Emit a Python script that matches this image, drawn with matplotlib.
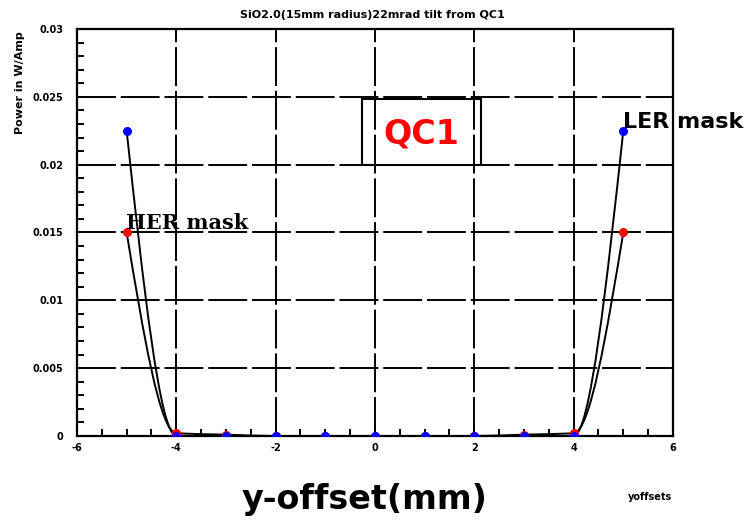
import numpy as np
import matplotlib
matplotlib.use("Agg")
import matplotlib.pyplot as plt
from matplotlib.path import Path
from matplotlib.patches import PathPatch, Rectangle
from matplotlib.ticker import MultipleLocator

# y offset of the beam [mm]
offsets = [-5, -4, -3, -2, -1, 0, 1, 2, 3, 4, 5]

# power deposited [W/Amp]
power_ler = [0.0225, 0, 0, 0, 0, 0, 0, 0, 0, 0, 0.0225]
power_her = [0.015, 0.0002, 0.0001, 0, 0, 0, 0, 0, 0.0001, 0.0002, 0.015]

x_ticks = [-6, -4, -2, 0, 2, 4, 6]
y_ticks = [0, 0.005, 0.01, 0.015, 0.02, 0.025, 0.03]
y_tick_labels = ["0", "0.005", "0.01", "0.015", "0.02", "0.025", "0.03"]

TITLE = "SiO2.0(15mm radius)22mrad tilt from QC1"

plt.rcParams["axes.unicode_minus"] = False


def pchip_slopes(x, y):
    """Monotone (Fritsch-Carlson) slopes at each node."""
    x = np.asarray(x, dtype=float)
    y = np.asarray(y, dtype=float)
    h = np.diff(x)
    delta = np.diff(y) / h
    d = np.zeros_like(y)
    for i in range(1, len(y) - 1):
        if delta[i - 1] * delta[i] > 0:
            w1 = 2 * h[i] + h[i - 1]
            w2 = h[i] + 2 * h[i - 1]
            d[i] = (w1 + w2) / (w1 / delta[i - 1] + w2 / delta[i])

    def end_slope(h0, h1, d0, d1):
        s = ((2 * h0 + h1) * d0 - h0 * d1) / (h0 + h1)
        if np.sign(s) != np.sign(d0):
            return 0.0
        if np.sign(d0) != np.sign(d1) and abs(s) > abs(3 * d0):
            return 3 * d0
        return s

    d[0] = end_slope(h[0], h[1], delta[0], delta[1])
    d[-1] = end_slope(h[-1], h[-2], delta[-1], delta[-2])
    return d


def smooth_curve(x, y):
    """Cubic Bezier path running through every point."""
    d = pchip_slopes(x, y)
    verts = [(x[0], y[0])]
    codes = [Path.MOVETO]
    for i in range(len(x) - 1):
        h = x[i + 1] - x[i]
        verts += [
            (x[i] + h / 3, y[i] + d[i] * h / 3),
            (x[i + 1] - h / 3, y[i + 1] - d[i + 1] * h / 3),
            (x[i + 1], y[i + 1]),
        ]
        codes += [Path.CURVE4] * 3
    return Path(verts, codes)


fig = plt.figure(figsize=(7.51, 5.22), dpi=100)
ax = fig.add_axes([0.1025, 0.1648, 0.7936, 0.7797])

ax.set_xlim(-6, 6)
ax.set_ylim(0, 0.03)

# dashed grid
ax.grid(True, color="black", linewidth=1.4, linestyle=(0, (20, 2.5)))
ax.set_axisbelow(True)

for series, colour in [(power_her, "red"), (power_ler, "blue")]:
    curve = PathPatch(smooth_curve(offsets, series), facecolor="none",
                      edgecolor="black", linewidth=1.4, zorder=3)
    ax.add_patch(curve)
    ax.plot(offsets, series, linestyle="none", marker="o", markersize=5.5,
            markerfacecolor=colour, markeredgecolor=colour, zorder=4)

ax.set_xticks(x_ticks)
ax.set_yticks(y_ticks)
ax.set_yticklabels(y_tick_labels)
ax.xaxis.set_minor_locator(MultipleLocator(0.5))
ax.yaxis.set_minor_locator(MultipleLocator(0.001))
ax.tick_params(axis="both", which="both", direction="in", length=5,
               width=1.4, top=False, right=False)
ax.tick_params(axis="x", which="major", pad=5)
ax.tick_params(axis="y", which="major", pad=10)
for lab in ax.get_xticklabels() + ax.get_yticklabels():
    lab.set_fontsize(7)
    lab.set_fontweight("bold")

for spine in ax.spines.values():
    spine.set_linewidth(1.6)

ax.text(4.99, 0.02315, "LER mask", fontsize=16, fontweight="bold",
        ha="left", va="center", zorder=5, clip_on=False)
ax.text(-5.01, 0.0157, "HER mask", fontsize=15, fontweight="bold",
        family="DejaVu Serif", ha="left", va="center", zorder=5)

# QC1 marker box
ax.add_patch(Rectangle((0.478, 0.666), 0.200, 0.162, transform=ax.transAxes,
                       fill=False, edgecolor="black", linewidth=1.5, zorder=5))
ax.text(0.577, 0.743, "QC1", transform=ax.transAxes, color="red",
        fontsize=24, fontweight="bold", ha="center", va="center", zorder=5)

fig.text(372 / 751, 1 - 15 / 522, TITLE, fontsize=8, fontweight="bold",
         ha="center", va="center")
fig.text(20 / 751, 1 - 83 / 522, "Power in W/Amp", fontsize=8,
         fontweight="bold", rotation=90, ha="center", va="center")
fig.text(365 / 751, 1 - 500 / 522, "y-offset(mm)", fontsize=24,
         fontweight="bold", ha="center", va="center")
fig.text(672 / 751, 1 - 497 / 522, "yoffsets", fontsize=7,
         fontweight="bold", ha="right", va="center")

fig.savefig("out.png", dpi=100, facecolor="white")
